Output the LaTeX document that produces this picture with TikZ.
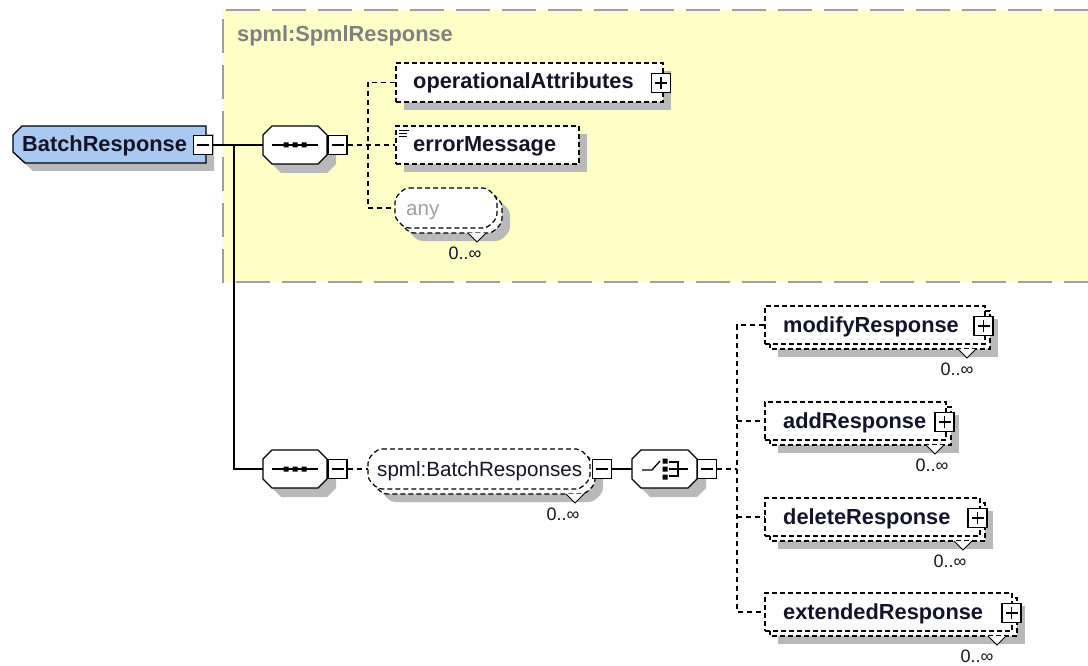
\documentclass[tikz,border=0pt]{standalone}
\usepackage{fontspec}
\setmainfont{Liberation Sans}
\usetikzlibrary{calc}
\definecolor{yel}{RGB}{255,255,200}
\definecolor{ybord}{RGB}{160,160,160}
\definecolor{shd}{RGB}{185,185,185}
\definecolor{blu}{RGB}{170,201,240}
\definecolor{txt}{RGB}{20,20,40}
\definecolor{gtxt}{RGB}{128,128,128}
\definecolor{atxt}{RGB}{160,160,160}
\newcommand\bfname{\fontsize{21.8}{26}\selectfont\bfseries}
\newcommand\rgname{\fontsize{20.6}{24}\selectfont}
\newcommand\occfont{\fontsize{18}{20}\selectfont}
% octagon path: x1 y1 x2 y2 chamfer options
\newcommand\octshape[6]{\path[#6] (#1+#5,#2) -- (#3-#5,#2) -- (#3,#2+#5) -- (#3,#4-#5) -- (#3-#5,#4) -- (#1+#5,#4) -- (#1,#4-#5) -- (#1,#2+#5) -- cycle;}
% stacked element: name x1 y1 x2 y2
\newcommand\stackel[5]{%
  \fill[shd] (#2+13,#3+13) rectangle (#4+13,#5+13);
  \draw[ebox] (#2+5,#3+5) rectangle (#4+5,#5+5);
  \node[ebox, minimum width={#4-#2}, minimum height={#5-#3}] (#1) at ({(#2+#4)/2},{(#3+#5)/2}) {};}
\begin{document}
\begin{tikzpicture}[x=1pt,y=-1pt,
  conn/.style={draw=black, line width=1.3pt},
  dconn/.style={draw=black, line width=1.3pt, dash pattern=on 5pt off 4pt},
  ebox/.style={draw=black, fill=white, line width=1.2pt, dash pattern=on 5pt off 3pt, inner sep=0pt},
  abox/.style={draw=none, inner sep=0pt},
  pmbox/.style={draw=black, fill=white, solid, line width=1.2pt, minimum width=19pt, minimum height=19pt, inner sep=0pt},
  minusb/.style={pmbox, path picture={\draw[solid, line width=1.2pt] ($(path picture bounding box.west)+(3.5,0)$) -- ($(path picture bounding box.east)+(-3.5,0)$);}},
  plusb/.style={pmbox, path picture={\draw[solid, line width=1.2pt] ($(path picture bounding box.west)+(3.5,0)$) -- ($(path picture bounding box.east)+(-3.5,0)$) ($(path picture bounding box.north)+(0,3.5)$) -- ($(path picture bounding box.south)+(0,-3.5)$);}},
  tb/.style={anchor=base west, inner sep=0pt, font=\bfname, text=txt},
  tr/.style={anchor=base west, inner sep=0pt, font=\rgname, text=txt},
  occ/.style={anchor=base, inner sep=0pt, font=\occfont, text=txt},
  vmark/.style={draw=black, fill=white, line width=0.9pt, solid}
]
\useasboundingbox (0,0) rectangle (1088,666);
% group background
\fill[yel] (223,10) rectangle (1088,282);
\draw[ybord, line width=2pt, dash pattern=on 34pt off 12pt] (1088,10) -- (223,10) -- (223,282) -- (1088,282);
\node[anchor=base west, inner sep=0pt, font=\bfname, text=gtxt] (grp) at (237,42) {spml:SpmlResponse};

% ---------- BatchResponse
\fill[shd, shift={(8,8)}] (22,126) -- (206,126) -- (206,163) -- (25,163) -- (13,152) -- (13,135) -- cycle;
\draw[fill=blu, line width=1.3pt] (22,126) -- (206,126) -- (206,163) -- (25,163) -- (13,152) -- (13,135) -- cycle;
\node[tb] (br) at (22,152) {BatchResponse};
\node[minusb] (brm) at (203,145) {};

% ---------- sequence 1
\octshape{263}{126}{327}{164}{9}{fill=shd, shift={(9,9)}}
\octshape{263}{126}{327}{164}{9}{draw=black, fill=white, line width=1.3pt}
\node[abox, minimum width=64pt, minimum height=38pt] (seq1) at (295,145) {};
\draw[line width=1.3pt] (272,145) -- (318,145);
\fill (283.5,142.5) rectangle +(5,5) (292.5,142.5) rectangle +(5,5) (301.5,142.5) rectangle +(5,5);
\node[minusb] (s1m) at (337.5,145) {};

% ---------- operationalAttributes
\fill[shd] (404,71) rectangle (671,110);
\node[ebox, minimum width=267pt, minimum height=39pt] (opa) at (529.5,82.5) {};
\node[tb] (opat) at (413,89) {operationalAttributes};
\node[plusb] (opap) at (661,83) {};

% ---------- errorMessage
\fill[shd] (404,134) rectangle (587,172);
\node[ebox, minimum width=183pt, minimum height=38pt] (err) at (487.5,145) {};
\node[tb] (errt) at (413,152) {errorMessage};
\draw[line width=1pt] (399,130.5) -- (409,130.5) (399,133.8) -- (407,133.8) (399,137) -- (407,137);

% ---------- any
\octshape{400}{193}{502}{233}{10}{fill=shd, shift={(8,8)}, rounded corners=4pt}
\octshape{400}{193}{502}{233}{10}{ebox, rounded corners=4pt}
\octshape{395}{188}{497}{228}{10}{ebox, rounded corners=4pt}
\node[abox, minimum width=102pt, minimum height=40pt] (any) at (446,208) {};
\node[anchor=base west, inner sep=0pt, font=\rgname, text=atxt] (anyt) at (406,215) {any};
\draw[vmark] (468,233) -- (477,242) -- (486,233);
\node[occ] (anyo) at (465,259) {0..∞};

% ---------- top connectors
\coordinate (t1) at (368,145);
\coordinate (j1) at (234,145);
\draw[conn] (brm.east) -- (seq1.west);
\draw[dconn] (s1m.east) -- (err.west);
\draw[dconn] (opa.west) -| (t1) |- (any.west);

% ---------- sequence 2
\octshape{263}{450}{327}{488}{9}{fill=shd, shift={(9,9)}}
\octshape{263}{450}{327}{488}{9}{draw=black, fill=white, line width=1.3pt}
\node[abox, minimum width=64pt, minimum height=38pt] (seq2) at (295,469) {};
\draw[line width=1.3pt] (272,469) -- (318,469);
\fill (283.5,466.5) rectangle +(5,5) (292.5,466.5) rectangle +(5,5) (301.5,466.5) rectangle +(5,5);
\node[minusb] (s2m) at (337.5,469) {};
\draw[conn] (j1) |- (seq2.west);

% ---------- spml:BatchResponses
\octshape{373}{454}{595}{494}{10}{fill=shd, shift={(8,8)}, rounded corners=4pt}
\octshape{373}{454}{595}{494}{10}{ebox, rounded corners=4pt}
\octshape{368}{449}{590}{489}{10}{ebox, rounded corners=4pt}
\node[abox, minimum width=222pt, minimum height=40pt] (bres) at (479,469) {};
\node[tr] (brest) at (377,476) {spml:BatchResponses};
\draw[vmark] (566,494) -- (575,503) -- (584,494);
\node[occ] (breso) at (563,520) {0..∞};
\node[minusb] (brsm) at (602,469) {};
\draw[dconn] (s2m.east) -- (bres.west);

% ---------- choice
\octshape{632}{450}{697}{488}{9}{fill=shd, shift={(9,9)}}
\octshape{632}{450}{697}{488}{9}{draw=black, fill=white, line width=1.3pt}
\node[abox, minimum width=65pt, minimum height=38pt] (ch) at (664.5,469) {};
\draw[line width=1.3pt] (642,470) -- (652,470) -- (660,461);
\fill (662.5,458.5) rectangle +(5,5) (662.5,466.5) rectangle +(5,5) (662.5,474.5) rectangle +(5,5);
\draw[line width=1.3pt] (669,462) -- (678,462) -- (678,476) -- (669,476) (669,469) -- (688,469);
\node[minusb] (chm) at (707,469) {};
\draw[conn] (brsm.east) -- (ch.west);

% ---------- choice children
\stackel{modf}{765}{306}{985}{344}
\node[tb] (modt) at (783,332) {modifyResponse};
\node[plusb] (modp) at (983.5,326) {};
\draw[vmark] (958,349) -- (967,358) -- (976,349);
\node[occ] (modo) at (957,375) {0..∞};

\stackel{addf}{765}{402}{946}{440}
\node[tb] (addt) at (783,428) {addResponse};
\node[plusb] (addp) at (944.5,422) {};
\draw[vmark] (926,445) -- (935,454) -- (944,445);
\node[occ] (addo) at (932,471) {0..∞};

\stackel{delf}{765}{498}{980}{536}
\node[tb] (delt) at (783,524) {deleteResponse};
\node[plusb] (delp) at (977.5,518) {};
\draw[vmark] (954,541) -- (963,550) -- (972,541);
\node[occ] (delo) at (950,567) {0..∞};

\stackel{extf}{765}{593}{1012}{631}
\node[tb] (extt) at (783,619) {extendedResponse};
\node[plusb] (extp) at (1011.5,613) {};
\draw[vmark] (988,636) -- (997,645) -- (1006,636);
\node[occ] (exto) at (977,662) {0..∞};

% ---------- choice connectors
\coordinate (t2) at (737,469);
\draw[dconn] (chm.east) -- (t2);
\draw[dconn] (modf.west) -| (t2) |- (extf.west);
\draw[dconn] (t2 |- addf.west) -- (addf.west);
\draw[dconn] (t2 |- delf.west) -- (delf.west);
\end{tikzpicture}
\end{document}
